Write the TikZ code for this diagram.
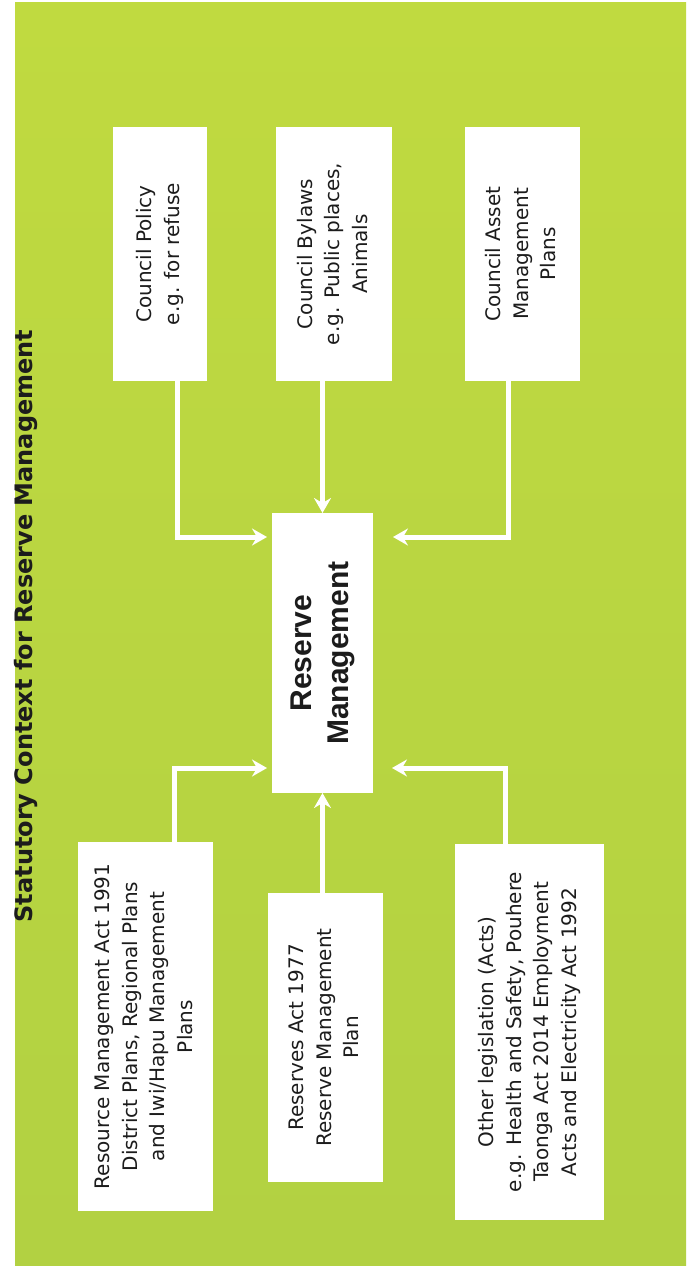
\documentclass[tikz,border=0pt]{standalone}
\usepackage{fontspec}
\setmainfont{DejaVu Sans}
\newfontfamily\rmfontbold{Liberation Sans}
\newfontfamily\ttlfont{DejaVu Sans}
\usetikzlibrary{arrows.meta}
\definecolor{gtop}{RGB}{192,218,64}
\definecolor{gmid}{RGB}{163,201,72}
\definecolor{gbot}{RGB}{178,209,66}
\definecolor{ink}{RGB}{28,28,28}
\newcommand\vtext[1]{\rotatebox{90}{\begin{tabular}{@{}c@{}}#1\end{tabular}}}
\tikzset{
  box/.style={fill=white, draw=none, inner sep=0pt, outer sep=0pt, text=ink,
    font=\fontsize{20}{27.5}\selectfont},
  arr/.style={draw=white, line width=5pt, line join=miter,
    -{Stealth[length=15pt, width=17pt, inset=5pt]}},
}
\begin{document}
\begin{tikzpicture}[x=1pt, y=-1pt]
\useasboundingbox (0,0) rectangle (686,1269);
\fill[white] (0,0) rectangle (686,1269);
\shade[top color=gtop, middle color=gmid, bottom color=gbot] (15,2) rectangle (686,1265);

\node[text=ink, inner sep=0pt, font=\ttlfont\bfseries\fontsize{24}{28}\selectfont] (ttl) at (26,626)
  {\rotatebox{90}{Statutory Context for Reserve Management}};

\node[box, minimum width=94pt, minimum height=254pt] (pol) at (160,254)
  {\vtext{Council Policy\\e.g. for refuse}};
\node[box, minimum width=116pt, minimum height=254pt] (byl) at (334,254)
  {\vtext{Council Bylaws\\e.g. Public places,\\Animals}};
\node[box, minimum width=115pt, minimum height=254pt] (ast) at (522.5,254)
  {\vtext{Council Asset\\Management\\Plans}};

\node[box, minimum width=101pt, minimum height=280pt,
  font=\rmfontbold\bfseries\fontsize{30}{37}\selectfont] (rm) at (322.5,653)
  {\vtext{Reserve\\Management}};

\node[box, minimum width=135pt, minimum height=369pt] (res) at (145.5,1026.5)
  {\vtext{Resource Management Act 1991\\District Plans, Regional Plans\\and Iwi/Hapu Management\\Plans}};
\node[box, minimum width=115pt, minimum height=289pt] (rsv) at (325.5,1037.5)
  {\vtext{Reserves Act 1977\\Reserve Management\\Plan}};
\node[box, minimum width=149pt, minimum height=376pt] (oth) at (529.5,1032)
  {\vtext{Other legislation (Acts)\\e.g. Health and Safety, Pouhere\\Taonga Act 2014 Employment\\Acts and Electricity Act 1992}};

\draw[arr, shorten >=5pt] ([xshift=17pt]pol.south) |- ([yshift=116pt]rm.west);
\draw[arr] (byl.south -| rm.north) -- (rm.north);
\draw[arr, shorten >=20pt] ([xshift=-14pt]ast.south) |- ([yshift=116pt]rm.east);
\draw[arr, shorten >=5pt] ([xshift=29pt]res.north) |- ([yshift=-115pt]rm.west);
\draw[arr] (rsv.north -| rm.south) -- (rm.south);
\draw[arr, shorten >=19pt] ([xshift=-24pt]oth.north) |- ([yshift=-115pt]rm.east);
\end{tikzpicture}
\end{document}
